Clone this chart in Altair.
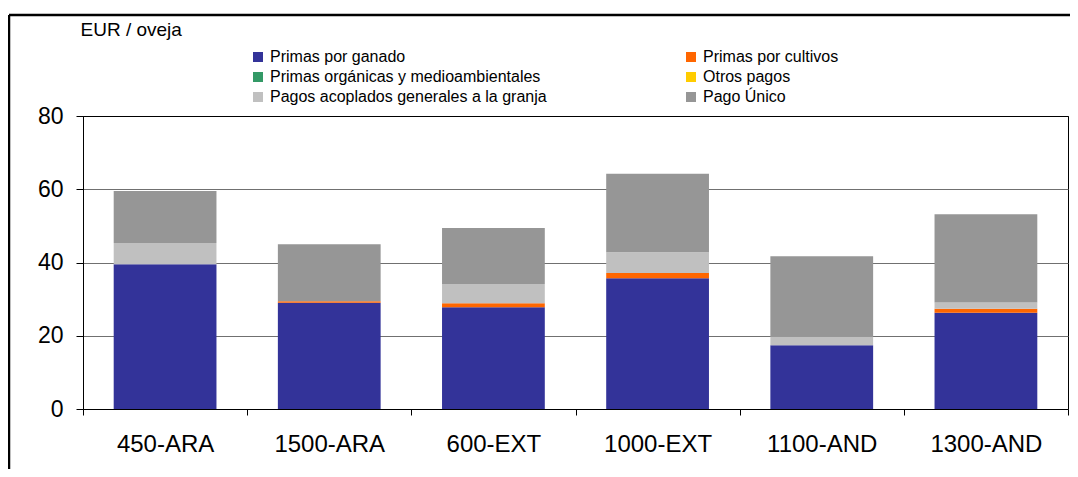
import altair as alt
import pandas as pd

categories = ["450-ARA", "1500-ARA", "600-EXT", "1000-EXT", "1100-AND", "1300-AND"]
series = [
    "Primas por ganado",
    "Primas por cultivos",
    "Primas orgánicas y medioambientales",
    "Otros pagos",
    "Pagos acoplados generales a la granja",
    "Pago Único",
]
stack_rank = [0, 1, 2, 3, 4, 5]
colors = ["#333399", "#FF6600", "#339966", "#FFCC00", "#C0C0C0", "#969696"]

ganado = [39.5, 29.0, 27.8, 35.7, 17.4, 26.3]
cultivos = [0.0, 0.4, 1.1, 1.4, 0.0, 1.1]
organicas = [0.0, 0.0, 0.0, 0.0, 0.0, 0.0]
otros = [0.0, 0.0, 0.0, 0.0, 0.0, 0.0]
acoplados = [5.8, 0.0, 5.2, 5.7, 2.4, 1.7]
unico = [14.2, 15.6, 15.3, 21.4, 21.9, 24.1]

y_ticks = [0, 20, 40, 60, 80]

rows = []
for i, c in enumerate(categories):
    for s, r, vals in zip(series, stack_rank, [ganado, cultivos, organicas, otros, acoplados, unico]):
        rows.append({"cat": c, "serie": s, "valor": vals[i], "orden": r})
df = pd.DataFrame(rows)

FONT = "Liberation Sans, Arial, Helvetica, sans-serif"

bars = alt.Chart(df).mark_bar(width=alt.RelativeBandSize(0.626)).encode(
    x=alt.X(
        "cat:N",
        sort=categories,
        scale=alt.Scale(paddingInner=0, paddingOuter=0),
        axis=alt.Axis(
            title=None,
            labelAngle=0,
            tickBand="extent",
            labelFontSize=24,
            labelPadding=17,
            tickSize=6,
            labelColor="#000000",
            grid=False,
        ),
    ),
    y=alt.Y(
        "valor:Q",
        stack="zero",
        scale=alt.Scale(domain=[0, 80], nice=False),
        axis=alt.Axis(
            values=y_ticks,
            title="EUR / oveja",
            titleAngle=0,
            titleAlign="left",
            titleBaseline="alphabetic",
            titleX=-3,
            titleY=-81,
            titleFontSize=19,
            titleFontWeight="normal",
            titleColor="#000000",
            labelFontSize=23,
            labelPadding=13,
            tickSize=7,
            labelColor="#000000",
            grid=True,
            gridColor={"condition": {"test": "datum.value == 80", "value": "#000000"}, "value": "#707070"},
            gridWidth=1.2,
        ),
    ),
    color=alt.Color(
        "serie:N",
        scale=alt.Scale(domain=series, range=colors),
        legend=alt.Legend(
            title=None,
            orient="none",
            direction="horizontal",
            legendX=167,
            legendY=-67,
            columns=2,
            columnPadding=136,
            rowPadding=4,
            symbolType="square",
            symbolSize=100,
            symbolStrokeWidth=0,
            labelFontSize=16,
            labelOffset=4,
            labelLimit=0,
            labelColor="#000000",
            padding=0,
        ),
    ),
    order=alt.Order("orden:Q"),
)

frame_df = pd.DataFrame({"k": [0]})
frame_top = alt.Chart(frame_df).mark_rule(color="#000000", strokeWidth=2.5).encode(
    x=alt.value(-74), x2=alt.value(1000), y=alt.value(-101)
)
frame_left = alt.Chart(frame_df).mark_rule(color="#000000", strokeWidth=2.5).encode(
    x=alt.value(-74), y=alt.value(-101), y2=alt.value(400)
)

chart = alt.layer(bars, frame_top, frame_left).properties(
    width=985,
    height=293,
    autosize=alt.AutoSizeParams(type="none"),
    padding={"left": 75, "top": 108, "right": 2, "bottom": 60},
).configure(
    font=FONT,
).configure_axis(
    domainColor="#000000",
    tickColor="#000000",
    domainWidth=1,
    tickWidth=1,
).configure_view(
    stroke="#000000",
    strokeWidth=1,
)

chart.save("out.html", embed_options={"renderer": "svg", "actions": False})
